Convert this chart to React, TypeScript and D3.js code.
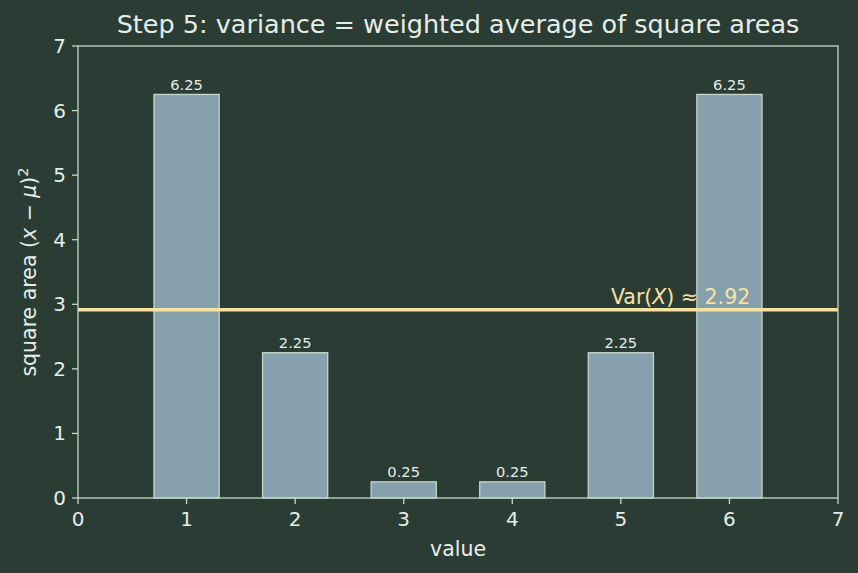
import * as d3 from "d3";

const values = [1, 2, 3, 4, 5, 6];
const squareAreas = [6.25, 2.25, 0.25, 0.25, 2.25, 6.25];
const variance = 2.9167;
const varianceLabel = "2.92";
const xTicks = [0, 1, 2, 3, 4, 5, 6, 7];
const yTicks = [0, 1, 2, 3, 4, 5, 6, 7];

const W = 858;
const H = 573;
const margin = { top: 46, right: 20, bottom: 75, left: 78 };

const BG = "#2b3c35";
const FG = "#e6ede8";
const SPINE = "#c5d6cd";
const BAR = "#86a0ac";
const VAR_COLOR = "#f7e3a1";
const FONT = "DejaVu Sans, sans-serif";

export default function App() {
  const x = d3.scaleLinear().domain([0, 7]).range([margin.left, W - margin.right]);
  const y = d3.scaleLinear().domain([0, 7]).range([H - margin.bottom, margin.top]);
  const barW = x(0.6) - x(0);
  const x0 = margin.left;
  const x1 = W - margin.right;
  const y0 = H - margin.bottom;
  const y1 = margin.top;

  return (
    <svg
      width={W}
      height={H}
      style={{ position: "absolute", left: 0, top: 0, background: BG }}
      fontFamily={FONT}
    >
      <rect x={0} y={0} width={W} height={H} fill={BG} />
      <text x={(x0 + x1) / 2} y={33} fill={FG} fontSize={25.5} textAnchor="middle">
        Step 5: variance = weighted average of square areas
      </text>

      {values.map((v, i) => (
        <g key={v}>
          <rect
            x={x(v - 0.3)}
            y={y(squareAreas[i])}
            width={barW}
            height={y(0) - y(squareAreas[i])}
            fill={BAR}
            stroke={SPINE}
            strokeWidth={1.3}
          />
          <text x={x(v)} y={y(squareAreas[i]) - 4.5} fill={FG} fontSize={14.7} textAnchor="middle">
            {squareAreas[i].toFixed(2)}
          </text>
        </g>
      ))}

      <line x1={x0} x2={x1} y1={y(variance)} y2={y(variance)} stroke={VAR_COLOR} strokeWidth={3.5} />
      <text x={x(5.55)} y={y(variance) - 6} fill={VAR_COLOR} fontSize={20.5} textAnchor="middle">
        Var(<tspan fontStyle="italic">X</tspan>) ≈ {varianceLabel}
      </text>

      {/* frame */}
      <rect x={x0} y={y1} width={x1 - x0} height={y0 - y1} fill="none" stroke={SPINE} strokeWidth={1.3} />

      {xTicks.map((t) => (
        <g key={"x" + t}>
          <line x1={x(t)} x2={x(t)} y1={y0} y2={y0 + 6} stroke={SPINE} strokeWidth={1.3} />
          <text x={x(t)} y={y0 + 28} fill={FG} fontSize={20} textAnchor="middle">
            {t}
          </text>
        </g>
      ))}
      {yTicks.map((t) => (
        <g key={"y" + t}>
          <line x1={x0 - 6} x2={x0} y1={y(t)} y2={y(t)} stroke={SPINE} strokeWidth={1.3} />
          <text x={x0 - 12} y={y(t) + 7} fill={FG} fontSize={20} textAnchor="end">
            {t}
          </text>
        </g>
      ))}

      <text x={(x0 + x1) / 2} y={556} fill={FG} fontSize={20.5} textAnchor="middle">
        value
      </text>
      <text
        transform={`translate(36,${(y0 + y1) / 2}) rotate(-90)`}
        fill={FG}
        fontSize={20.5}
        textAnchor="middle"
      >
        square area (<tspan fontStyle="italic">x</tspan> − <tspan fontStyle="italic">μ</tspan>)
        <tspan dy={-8} fontSize={14.5}>2</tspan>
      </text>
    </svg>
  );
}
